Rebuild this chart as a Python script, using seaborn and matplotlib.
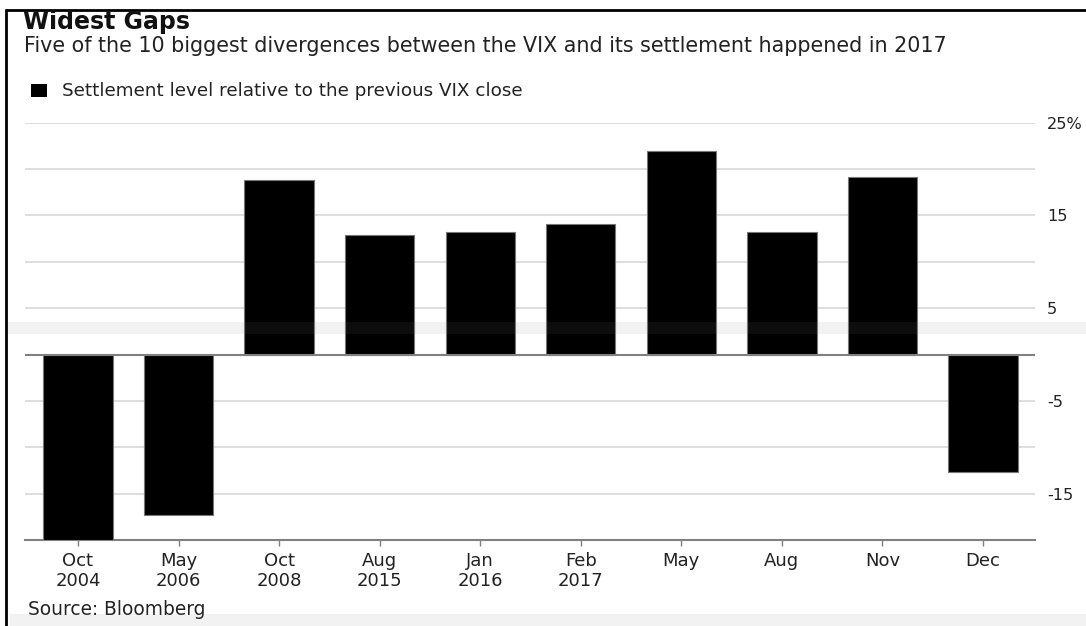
import matplotlib
matplotlib.use("Agg")
import matplotlib.pyplot as plt
from matplotlib.patches import Rectangle
import seaborn as sns
import pandas as pd

# Settlement level relative to previous VIX close (%)
months = ["Oct", "May", "Oct", "Aug", "Jan", "Feb", "May", "Aug", "Nov", "Dec"]
years = ["2004", "2006", "2008", "2015", "2016", "2017", "", "", "", ""]
gap_pct = [-20.0, -17.3, 18.8, 12.9, 13.2, 14.1, 21.9, 13.2, 19.1, -12.7]

labels = [f"{m}\n{y}" if y else m for m, y in zip(months, years)]
df = pd.DataFrame({"event": labels, "gap": gap_pct})

sns.set_theme(style="white")
plt.rcParams["font.family"] = ["DejaVu Sans"]

W, H = 1086, 626
fig = plt.figure(figsize=(W / 100, H / 100), dpi=100)
fig.patch.set_facecolor("white")


def fx(px):
    return px / W


def fy(py):
    return 1 - py / H


ax_left, ax_right = 24.7, 1035.3
ax_top, ax_bottom = 122.7, 540.0
ax = fig.add_axes([fx(ax_left), fy(ax_bottom), fx(ax_right - ax_left), (ax_bottom - ax_top) / H])

sns.barplot(data=df, x="event", y="gap", order=labels, color="black",
            width=0.69, edgecolor="#777777", linewidth=0.8, saturation=1,
            ax=ax, zorder=3)

ax.set_xlim(-0.53, 9.52)
ax.set_ylim(-20, 25)

# light gridlines every 5 points; darker zero line
for v in [25, 20, 15, 10, 5, -5, -10, -15]:
    ax.axhline(v, color="#dedede", lw=1.4, zorder=1)
ax.axhline(0, color="#808080", lw=1.5, zorder=4)

ax.set_yticks([25, 15, 5, -5, -15])
ax.set_yticklabels(["25%", "15", "5", "-5", "-15"])
ax.yaxis.tick_right()
ax.tick_params(axis="y", length=0, pad=8.5, labelsize=11.6, labelcolor="#222222")
ax.tick_params(axis="x", length=4, width=1, color="#808080", bottom=True,
               pad=5, labelsize=13, labelcolor="#222222")
for t in ax.get_xticklabels():
    t.set_linespacing(1.1)

for s in ["top", "left", "right"]:
    ax.spines[s].set_visible(False)
ax.spines["bottom"].set_color("#808080")
ax.spines["bottom"].set_linewidth(1.5)
ax.set_xlabel("")
ax.set_ylabel("")

# headline, subtitle, legend, source
fig.text(fx(23), fy(29.5), "Widest Gaps", fontsize=17, fontweight="bold",
         color="#111111", ha="left", va="baseline")
fig.text(fx(24), fy(51.5), "Five of the 10 biggest divergences between the VIX and its settlement happened in 2017",
         fontsize=14.9, color="#222222", ha="left", va="baseline")
fig.patches.append(Rectangle((fx(31), fy(97)), fx(16), 13 / H, transform=fig.transFigure,
                             facecolor="black", edgecolor="none"))
fig.text(fx(62), fy(96), "Settlement level relative to the previous VIX close",
         fontsize=13.2, color="#222222", ha="left", va="baseline")
fig.text(fx(28), fy(615), "Source: Bloomberg", fontsize=13.4, color="#222222",
         ha="left", va="baseline")

# frame lines along top and left edge
fig.add_artist(plt.Line2D([fx(6), 1], [fy(10), fy(10)], color="black", lw=2,
                          transform=fig.transFigure))
fig.add_artist(plt.Line2D([fx(6), fx(6)], [fy(10), 0], color="black", lw=2,
                          transform=fig.transFigure))

# faint grey bands across the panel
fig.patches.append(Rectangle((fx(8), fy(334)), 1, 12 / H, transform=fig.transFigure,
                             facecolor="#888888", alpha=0.1, edgecolor="none", zorder=10))
fig.patches.append(Rectangle((fx(10), 0), 1, 12 / H, transform=fig.transFigure,
                             facecolor="#888888", alpha=0.1, edgecolor="none", zorder=10))

fig.savefig("out.png", dpi=100)
